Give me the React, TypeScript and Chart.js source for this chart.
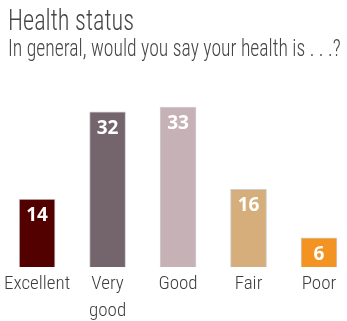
import React, { useEffect, useRef } from "react";
import { Chart, registerables } from "chart.js";

Chart.register(...registerables);

const categories: (string | string[])[] = ["Excellent", ["Very", "good"], "Good", "Fair", "Poor"];
const values = [14, 32, 33, 16, 6];
const barColors = ["#520000", "#73656b", "#c6b2b6", "#d5ae7b", "#f39422"];
const titleText = "Health status";
const subtitleText = "In general, would you say your health is . . .?";

const valueLabels = {
  id: "valueLabels",
  afterDatasetsDraw(chart: any) {
    const ctx = chart.ctx;
    const meta = chart.getDatasetMeta(0);
    ctx.save();
    ctx.fillStyle = "#ffffff";
    ctx.font = "bold 19px 'Open Sans', sans-serif";
    ctx.textAlign = "center";
    ctx.textBaseline = "alphabetic";
    meta.data.forEach((bar: any, i: number) => {
      ctx.fillText(String(values[i]), bar.x, bar.y + 22);
    });
    ctx.restore();
  },
};

export default function App() {
  const ref = useRef<HTMLCanvasElement>(null);
  useEffect(() => {
    const chart = new Chart(ref.current!, {
      type: "bar",
      data: {
        labels: categories,
        datasets: [
          {
            data: values,
            backgroundColor: barColors,
            borderColor: "#cfcfcf",
            borderWidth: 1,
            barThickness: 36,
            clip: false,
          },
        ],
      },
      options: {
        responsive: false,
        animation: false,
        layout: { padding: { left: 32.5, right: 28, top: 107, bottom: 0 } },
        plugins: { legend: { display: false }, tooltip: { enabled: false } },
        scales: {
          x: {
            offset: false,
            grid: { display: false, drawTicks: false },
            border: { display: false },
            ticks: {
              padding: 4,
              color: "#3d3d3d",
              font: { family: "'Roboto Condensed', sans-serif", size: 19, weight: 300, lineHeight: "27px" },
              maxRotation: 0,
              autoSkip: false,
            },
            afterFit: (scale: any) => {
              scale.height = 54;
            },
          },
          y: { display: false, min: 0, max: 33 },
        },
      },
      plugins: [valueLabels],
    });
    return () => chart.destroy();
  }, []);
  return (
    <div style={{ position: "absolute", left: 0, top: 0, width: 347, height: 321, background: "#fff" }}>
      <canvas ref={ref} width={347} height={321} style={{ position: "absolute", left: 0, top: 0 }} />
      <div
        style={{
          position: "absolute",
          left: 8,
          top: 1,
          fontFamily: "'Roboto Condensed', sans-serif",
          fontWeight: 300,
          fontSize: 29,
          lineHeight: "38px",
          color: "#454545",
          whiteSpace: "nowrap",
          transformOrigin: "left top",
          transform: "scaleX(0.84)",
        }}
      >
        {titleText}
      </div>
      <div
        style={{
          position: "absolute",
          left: 8,
          top: 34,
          fontFamily: "'Roboto Condensed', sans-serif",
          fontWeight: 300,
          fontSize: 23,
          lineHeight: "30px",
          color: "#454545",
          whiteSpace: "nowrap",
          transformOrigin: "left top",
          transform: "scaleX(0.855)",
        }}
      >
        {subtitleText}
      </div>
    </div>
  );
}
